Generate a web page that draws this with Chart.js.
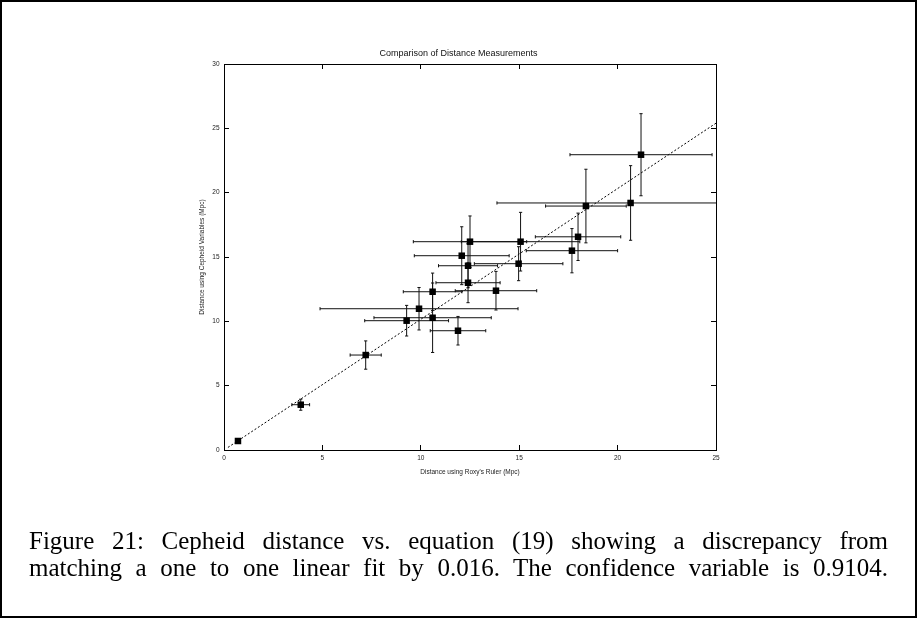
<!DOCTYPE html>
<html>
<head>
<meta charset="utf-8">
<script src="https://cdn.jsdelivr.net/npm/chart.js@4/dist/chart.umd.min.js"></script>
<style>
  body { margin: 0; background: #fff; }
  #frame {
    position: absolute; left: 0; top: 0; width: 917px; height: 618px;
    box-sizing: border-box; border: 2px solid #000;
  }
  #chart { position: absolute; left: 0; top: 0; }
  .cap {
    position: absolute; left: 29px; width: 859px;
    font-family: "Liberation Serif", "Times New Roman", serif;
    font-size: 25px; line-height: 27px; color: #000;
    text-align: justify; text-align-last: justify; white-space: nowrap;
  }
</style>
</head>
<body>
<div id="frame"></div>
<canvas id="chart" width="917" height="618"></canvas>
<div class="cap" style="top:527px">Figure 21: Cepheid distance vs. equation (19) showing a discrepancy from</div>
<div class="cap" style="top:554px">matching a one to one linear fit by 0.016. The confidence variable is 0.9104.</div>
<script>
// distances (Mpc)
const roxyDist = [0.71, 3.90, 7.20, 9.28, 9.91, 10.60, 10.60, 11.89, 12.40, 12.40,
                  12.08, 12.50, 13.82, 14.97, 15.07, 17.68, 17.99, 18.39, 20.66, 21.19];
const cepheidDist = [0.70, 3.52, 7.38, 10.05, 10.98, 10.28, 12.30, 9.27, 13.00, 14.32,
                     15.10, 16.19, 12.38, 14.48, 16.19, 15.49, 16.57, 18.96, 19.20, 22.95];
const roxyErr = [0, 0.45, 0.79, 2.13, 5.03, 2.98, 1.49, 1.41, 1.63, 1.50,
                 2.41, 2.88, 2.07, 2.25, 3.01, 2.32, 2.17, 2.05, 6.79, 3.61];
const cepheidErr = [0, 0.43, 1.10, 1.19, 1.65, 2.70, 1.45, 1.11, 1.55, 1.71,
                    2.25, 2.00, 1.50, 1.32, 2.28, 1.72, 1.84, 2.86, 2.90, 3.19];

// fitted line end points
const fitX = [0.2, 25];
const fitY = [0.2, 25.4];

const xTicks = [0, 5, 10, 15, 20, 25];
const yTicks = [0, 5, 10, 15, 20, 25, 30];

const tickFont = { family: "'Liberation Sans', Arial, sans-serif", size: 6.5 };

const points = roxyDist.map((x, i) => {
    return { x: x, y: cepheidDist[i] };
});

// horizontal bars, NaN breaks the line between them
const getXBars = () => {
    let out = [];
    roxyDist.forEach((x, i) => {
        if (!roxyErr[i]) return;
        out.push({ x: x - roxyErr[i], y: cepheidDist[i] });
        out.push({ x: x + roxyErr[i], y: cepheidDist[i] });
        out.push({ x: NaN, y: NaN });
    });
    return out;
}

const getYBars = () => {
    let out = [];
    roxyDist.forEach((x, i) => {
        if (!cepheidErr[i]) return;
        out.push({ x: x, y: cepheidDist[i] - cepheidErr[i] });
        out.push({ x: x, y: cepheidDist[i] + cepheidErr[i] });
        out.push({ x: NaN, y: NaN });
    });
    return out;
}

const fitLine = fitX.map((x, i) => {
    return { x: x, y: fitY[i] };
});

const inwardAxis = (pos, min, max, ticks, showLabels) => {
    return {
        type: 'linear',
        position: pos,
        min: min,
        max: max,
        afterBuildTicks: (s) => { s.ticks = ticks.map((v) => ({ value: v })); },
        ticks: { display: showLabels, font: tickFont, color: '#222' },
        grid: { drawOnChartArea: false, tickLength: -5, color: '#000', lineWidth: 1 },
        border: { display: true, color: '#000', width: 1 }
    };
}

const xAxis = inwardAxis('bottom', 0, 25, xTicks, true);
xAxis.ticks.padding = 9;
xAxis.title = {
    display: true,
    text: "Distance using Roxy's Ruler (Mpc)",
    font: tickFont, color: '#222',
    padding: { top: 0, bottom: 141.5 }
};
xAxis.afterFit = (s) => { s.height = 168; };

const yAxis = inwardAxis('left', 0, 30, yTicks, true);
yAxis.ticks.padding = 9.5;
yAxis.title = {
    display: true,
    text: 'Distance using Cepheid Variables (Mpc)',
    font: tickFont, color: '#222',
    padding: { top: 198.8, bottom: 0 }
};
yAxis.afterFit = (s) => { s.width = 224; };

const x2Axis = inwardAxis('top', 0, 25, xTicks, false);
x2Axis.afterFit = (s) => { s.height = 4.6; };

const y2Axis = inwardAxis('right', 0, 30, yTicks, false);
y2Axis.afterFit = (s) => { s.width = 201; };

const ctx = document.getElementById('chart').getContext('2d');
const myChart = new Chart(ctx, {
    type: 'scatter',
    data: {
        datasets: [{
            data: points,
            pointStyle: 'rect',
            pointRadius: 4.6,
            pointBackgroundColor: '#000',
            pointBorderWidth: 0
        }, {
            data: getXBars(),
            showLine: true,
            spanGaps: false,
            borderColor: '#111',
            borderWidth: 1,
            pointStyle: 'line',
            pointRotation: 90,
            pointRadius: 1.6,
            pointBorderColor: '#111',
            pointBorderWidth: 1,
            clip: 0
        }, {
            data: getYBars(),
            showLine: true,
            spanGaps: false,
            borderColor: '#111',
            borderWidth: 1,
            pointStyle: 'line',
            pointRotation: 0,
            pointRadius: 1.6,
            pointBorderColor: '#111',
            pointBorderWidth: 1,
            clip: 0
        }, {
            data: fitLine,
            showLine: true,
            borderColor: '#000',
            borderWidth: 1,
            borderDash: [2, 2],
            pointRadius: 0,
            clip: 0
        }]
    },
    options: {
        responsive: false,
        animation: false,
        devicePixelRatio: 1,
        layout: { padding: 0 },
        plugins: {
            legend: { display: false },
            tooltip: { enabled: false },
            title: {
                display: true,
                text: 'Comparison of Distance Measurements',
                color: '#111',
                font: { family: "'Liberation Sans', Arial, sans-serif", size: 9, weight: 'normal' },
                padding: { top: 48.6, bottom: 0 }
            }
        },
        scales: {
            x: xAxis,
            y: yAxis,
            x2: x2Axis,
            y2: y2Axis
        }
    }
});
</script>
</body>
</html>
